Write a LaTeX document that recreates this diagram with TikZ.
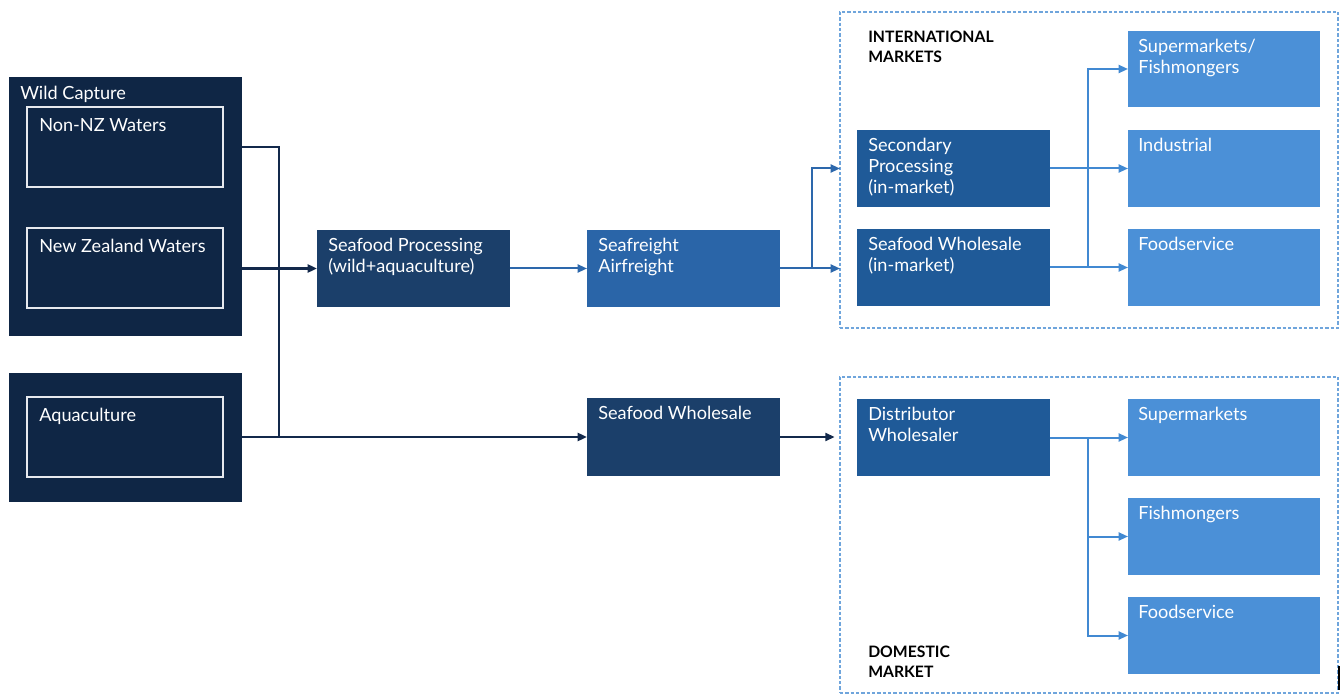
\documentclass[tikz,border=0pt]{standalone}
\usepackage{fontspec}
\setmainfont{Lato}
\usetikzlibrary{arrows.meta,fit,calc}

\definecolor{srcnavy}{HTML}{0F2645}
\definecolor{procblue}{HTML}{1B3F6A}
\definecolor{freightblue}{HTML}{2A65A8}
\definecolor{midblue}{HTML}{1F5A98}
\definecolor{lightblue}{HTML}{4B90D7}
\definecolor{framegrey}{HTML}{E6E9EE}
\definecolor{dashblue}{HTML}{6FA5DC}
\definecolor{linenavy}{HTML}{13294B}
\definecolor{linemid}{HTML}{2D68AC}
\definecolor{linelight}{HTML}{4189D2}

\begin{document}
\begin{tikzpicture}[x=0.75pt,y=-0.75pt,
  box/.style={inner sep=0pt, outer sep=0pt, draw=none},
  frame/.style={inner sep=0pt, outer sep=0pt, draw=framegrey, line width=1.6pt},
  region/.style={inner sep=0pt, outer sep=0pt, draw=dashblue, line width=0.9pt,
                 dash pattern=on 2.4pt off 1.6pt},
  lbl/.style={anchor=north west, inner sep=0pt, text=white, align=left,
              font=\fontsize{13.6}{15.8}\selectfont},
  head/.style={anchor=north west, inner sep=0pt, text=black, align=left,
               font=\bfseries\fontsize{11.8}{15}\selectfont},
  tip/.style={-{Triangle[length=7pt,width=6pt]}},
  wnavy/.style={draw=linenavy, line width=1.7pt},
  wmid/.style={draw=linemid, line width=1.5pt},
  wlight/.style={draw=linelight, line width=1.5pt}
]
\useasboundingbox (0,0) rectangle (1343,695);

% ---- sources ----
\node[box, fill=srcnavy, fit={(9,77)(242,336)}] (wild) {};
\node[frame, fit={(27,107)(223,187)}] (nonnz) {};
\node[frame, fit={(27,228)(223,308)}] (nzw) {};
\node[box, fill=srcnavy, fit={(9,373)(242,502)}] (aquabox) {};
\node[frame, fit={(27,397)(223,477)}] (aqua) {};

\node[lbl] (wildtxt) at ([shift={(11,9)}]wild.north west) {Wild Capture};
\node[lbl] (nonnztxt) at ([shift={(12,11)}]nonnz.north west) {Non-NZ Waters};
\node[lbl] (nzwtxt) at ([shift={(12,11)}]nzw.north west) {New Zealand Waters};
\node[lbl] (aquatxt) at ([shift={(12,11)}]aqua.north west) {Aquaculture};

% ---- processing and transport ----
\node[box, fill=procblue, fit={(317,230)(510,307)}] (proc) {};
\node[box, fill=freightblue, fit={(587,230)(780,307)}] (frt) {};
\node[box, fill=procblue, fit={(587,398)(780,476)}] (dws) {};

\node[lbl] at ([shift={(11,8)}]proc.north west) {Seafood Processing\\(wild+aquaculture)};
\node[lbl] at ([shift={(11,8)}]frt.north west) {Seafreight\\Airfreight};
\node[lbl] at ([shift={(11,8)}]dws.north west) {Seafood Wholesale};

% ---- international markets ----
\node[region, fit={(840,12)(1338,328)}] (intl) {};
\node[head] at (868,31) {INTERNATIONAL\\MARKETS};
\node[box, fill=midblue, fit={(857,130)(1050,207)}] (sec) {};
\node[box, fill=midblue, fit={(857,229)(1050,306)}] (wsi) {};
\node[box, fill=lightblue, fit={(1128,31)(1320,107)}] (smf) {};
\node[box, fill=lightblue, fit={(1128,130)(1320,207)}] (ind) {};
\node[box, fill=lightblue, fit={(1128,229)(1320,306)}] (fsi) {};

\node[lbl] at ([shift={(11,8)}]sec.north west) {Secondary\\Processing\\(in-market)};
\node[lbl] at ([shift={(11,8)}]wsi.north west) {Seafood Wholesale\\(in-market)};
\node[lbl] at ([shift={(10,8)}]smf.north west) {Supermarkets/\\Fishmongers};
\node[lbl] at ([shift={(10,8)}]ind.north west) {Industrial};
\node[lbl] at ([shift={(10,8)}]fsi.north west) {Foodservice};

% ---- domestic market ----
\node[region, fit={(840,377)(1338,693)}] (dom) {};
\node[head] at (868,646) {DOMESTIC\\MARKET};
\node[box, fill=midblue, fit={(857,399)(1050,476)}] (dist) {};
\node[box, fill=lightblue, fit={(1128,399)(1320,476)}] (sup) {};
\node[box, fill=lightblue, fit={(1128,498)(1320,575)}] (fish) {};
\node[box, fill=lightblue, fit={(1128,597)(1320,674)}] (fsd) {};

\node[lbl] at ([shift={(11,8)}]dist.north west) {Distributor\\Wholesaler};
\node[lbl] at ([shift={(10,8)}]sup.north west) {Supermarkets};
\node[lbl] at ([shift={(10,8)}]fish.north west) {Fishmongers};
\node[lbl] at ([shift={(10,8)}]fsd.north west) {Foodservice};

% ---- junction points of the branching lines ----
\coordinate (busL) at (279,147);
\coordinate (busM) at (812,269);
\coordinate (busI) at (1088,269);
\coordinate (busD) at (1088,438);

% ---- connectors ----
\draw[wnavy] (wild.east |- nonnz.east) -| (busL |- dws.west);
\draw[wnavy, tip] (wild.east |- proc.west) -- (proc.west);
\draw[wnavy, tip] (aquabox.east |- dws.west) -- (dws.west);
\draw[wmid, tip] (proc.east) -- (frt.west);
\draw[wmid, tip] (frt.east) -- (intl.west |- frt.east);
\draw[wmid, tip] (busM |- frt.east) |- (intl.west |- sec.west);
\draw[wnavy, line width=1.5pt, tip] (dws.east) -- ([xshift=-4pt]dom.west |- dws.east);

\draw[wlight, tip] (sec.east) -- (ind.west);
\draw[wlight, tip] (wsi.east) -- (fsi.west);
\draw[wlight, tip] (busI |- wsi.east) |- (smf.west);

\draw[wlight, tip] (dist.east) -- (sup.west);
\draw[wlight, tip] (busD |- dist.east) |- (fish.west);
\draw[wlight, tip] (busD |- dist.east) |- (fsd.west);

% small dark mark at the lower right edge
\draw[black, line width=1.4pt] (1339,666) -- (1339,690);
\end{tikzpicture}
\end{document}
